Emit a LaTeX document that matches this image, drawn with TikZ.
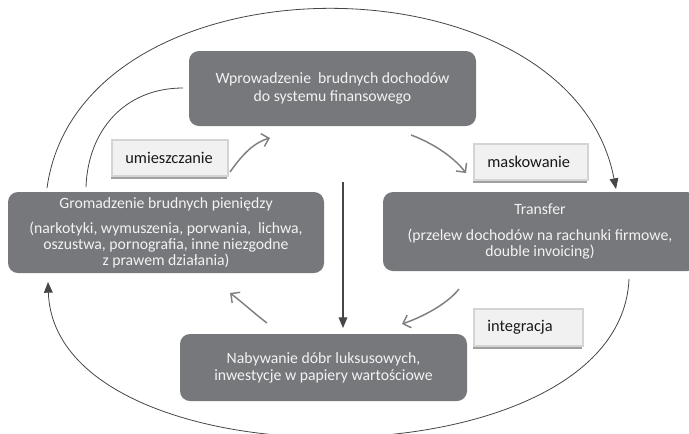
\documentclass[tikz,border=0pt]{standalone}
\usepackage{fontspec}
\setmainfont{Carlito}
\usetikzlibrary{arrows.meta,shadows}

\definecolor{stagefill}{RGB}{119,120,124}
\definecolor{stagetext}{RGB}{243,243,243}
\definecolor{tagfill}{RGB}{241,241,241}
\definecolor{tagedge}{RGB}{212,212,212}
\definecolor{tagshade}{RGB}{160,160,160}
\definecolor{flowgray}{RGB}{128,128,128}
\definecolor{loopgray}{RGB}{70,70,70}

\begin{document}
\begin{tikzpicture}[x=0.75pt,y=-0.75pt,
  stage/.style={rounded corners=7.5pt, fill=stagefill, text=stagetext,
    align=center, inner sep=0pt, font=\fontsize{11.8}{12}\selectfont},
  tag/.style={fill=tagfill, draw=tagedge, line width=0.8pt, text=black!90,
    align=left, inner xsep=10pt, inner ysep=0pt,
    font=\fontsize{12.3}{14}\selectfont,
    drop shadow={shadow xshift=-0.8pt, shadow yshift=-2.5pt,
      fill=tagshade, opacity=1}},
  flow/.style={draw=flowgray, line width=1.1pt,
    -{Straight Barb[length=5pt,width=10pt]}},
  loop/.style={draw=loopgray, line width=0.6pt},
  looptip/.style={-{Triangle[length=8pt,width=6.5pt]}},
]
\clip (0,0) rectangle (689,433);
\fill[white] (0,0) rectangle (689,433);

% the four stages of the cycle
\node[stage, minimum width=215.25pt, minimum height=56.25pt,
  font=\fontsize{11.8}{13.8}\selectfont] (intro) at (332.5,88.5)
  {Wprowadzenie\ \ brudnych dochodów\\do systemu finansowego};
\node[stage, minimum width=237pt, minimum height=60.75pt] (hoard) at (166,232.5)
  {Gromadzenie brudnych pieniędzy\\[7pt](narkotyki, wymuszenia, porwania,\ \ lichwa,\\oszustwa, pornografia, inne niezgodne\\z prawem działania)};
\node[stage, minimum width=235.5pt, minimum height=59.25pt] (transfer) at (540,231.5)
  {Transfer\\[7pt](przelew dochodów na rachunki firmowe,\\double invoicing)};
\node[stage, minimum width=215.25pt, minimum height=50.25pt,
  font=\fontsize{11.8}{12.75}\selectfont] (invest) at (323.5,367.5)
  {Nabywanie dóbr luksusowych,\\inwestycje w papiery wartościowe};

% phase labels
\node[tag, text width=67pt, minimum height=27pt] (placing) at (170,158) {umieszczanie};
\node[tag, text width=65.5pt, minimum height=27pt] (layering) at (531,162) {maskowanie};
\node[tag, text width=61.75pt, minimum height=27.75pt] (integr) at (528.5,327.5) {integracja};

% loose ends of the short connectors
\coordinate (p1) at (230,172);  \coordinate (p2) at (270,138);
\coordinate (m1) at (411,135);  \coordinate (m2) at (466,173);
\coordinate (i1) at (459,289);  \coordinate (i2) at (402,324);
\coordinate (b1) at (267,323);  \coordinate (b2) at (230,293);
\coordinate (v1) at (343,182);  \coordinate (v2) at (343,328);
\coordinate (o1) at (47,188);   \coordinate (o2) at (616,189);
\coordinate (o3) at (629,279);  \coordinate (o4) at (48,282);
\coordinate (n1) at (86,187);   \coordinate (n2) at (183,88);

% short phase arrows
\draw[flow] (p1) .. controls (240,158) and (252,143) .. (p2);
\draw[flow] (m1) .. controls (430,142) and (452,155) .. (m2);
\draw[flow] (i1) .. controls (448,303) and (425,316) .. (i2);
\draw[flow] (b1) .. controls (255,314) and (242,302) .. (b2);

% central drop
\draw[loopgray, line width=0.9pt, looptip] (v1) -- (v2);

% outer loops
\draw[loop, looptip] (o1) .. controls (80,-50) and (570,-50) .. (o2);
\draw[loop, looptip] (o3) .. controls (620,488) and (55,488) .. (o4);
\draw[loop] (n1) .. controls (88,130) and (125,88) .. (n2);
\end{tikzpicture}
\end{document}
